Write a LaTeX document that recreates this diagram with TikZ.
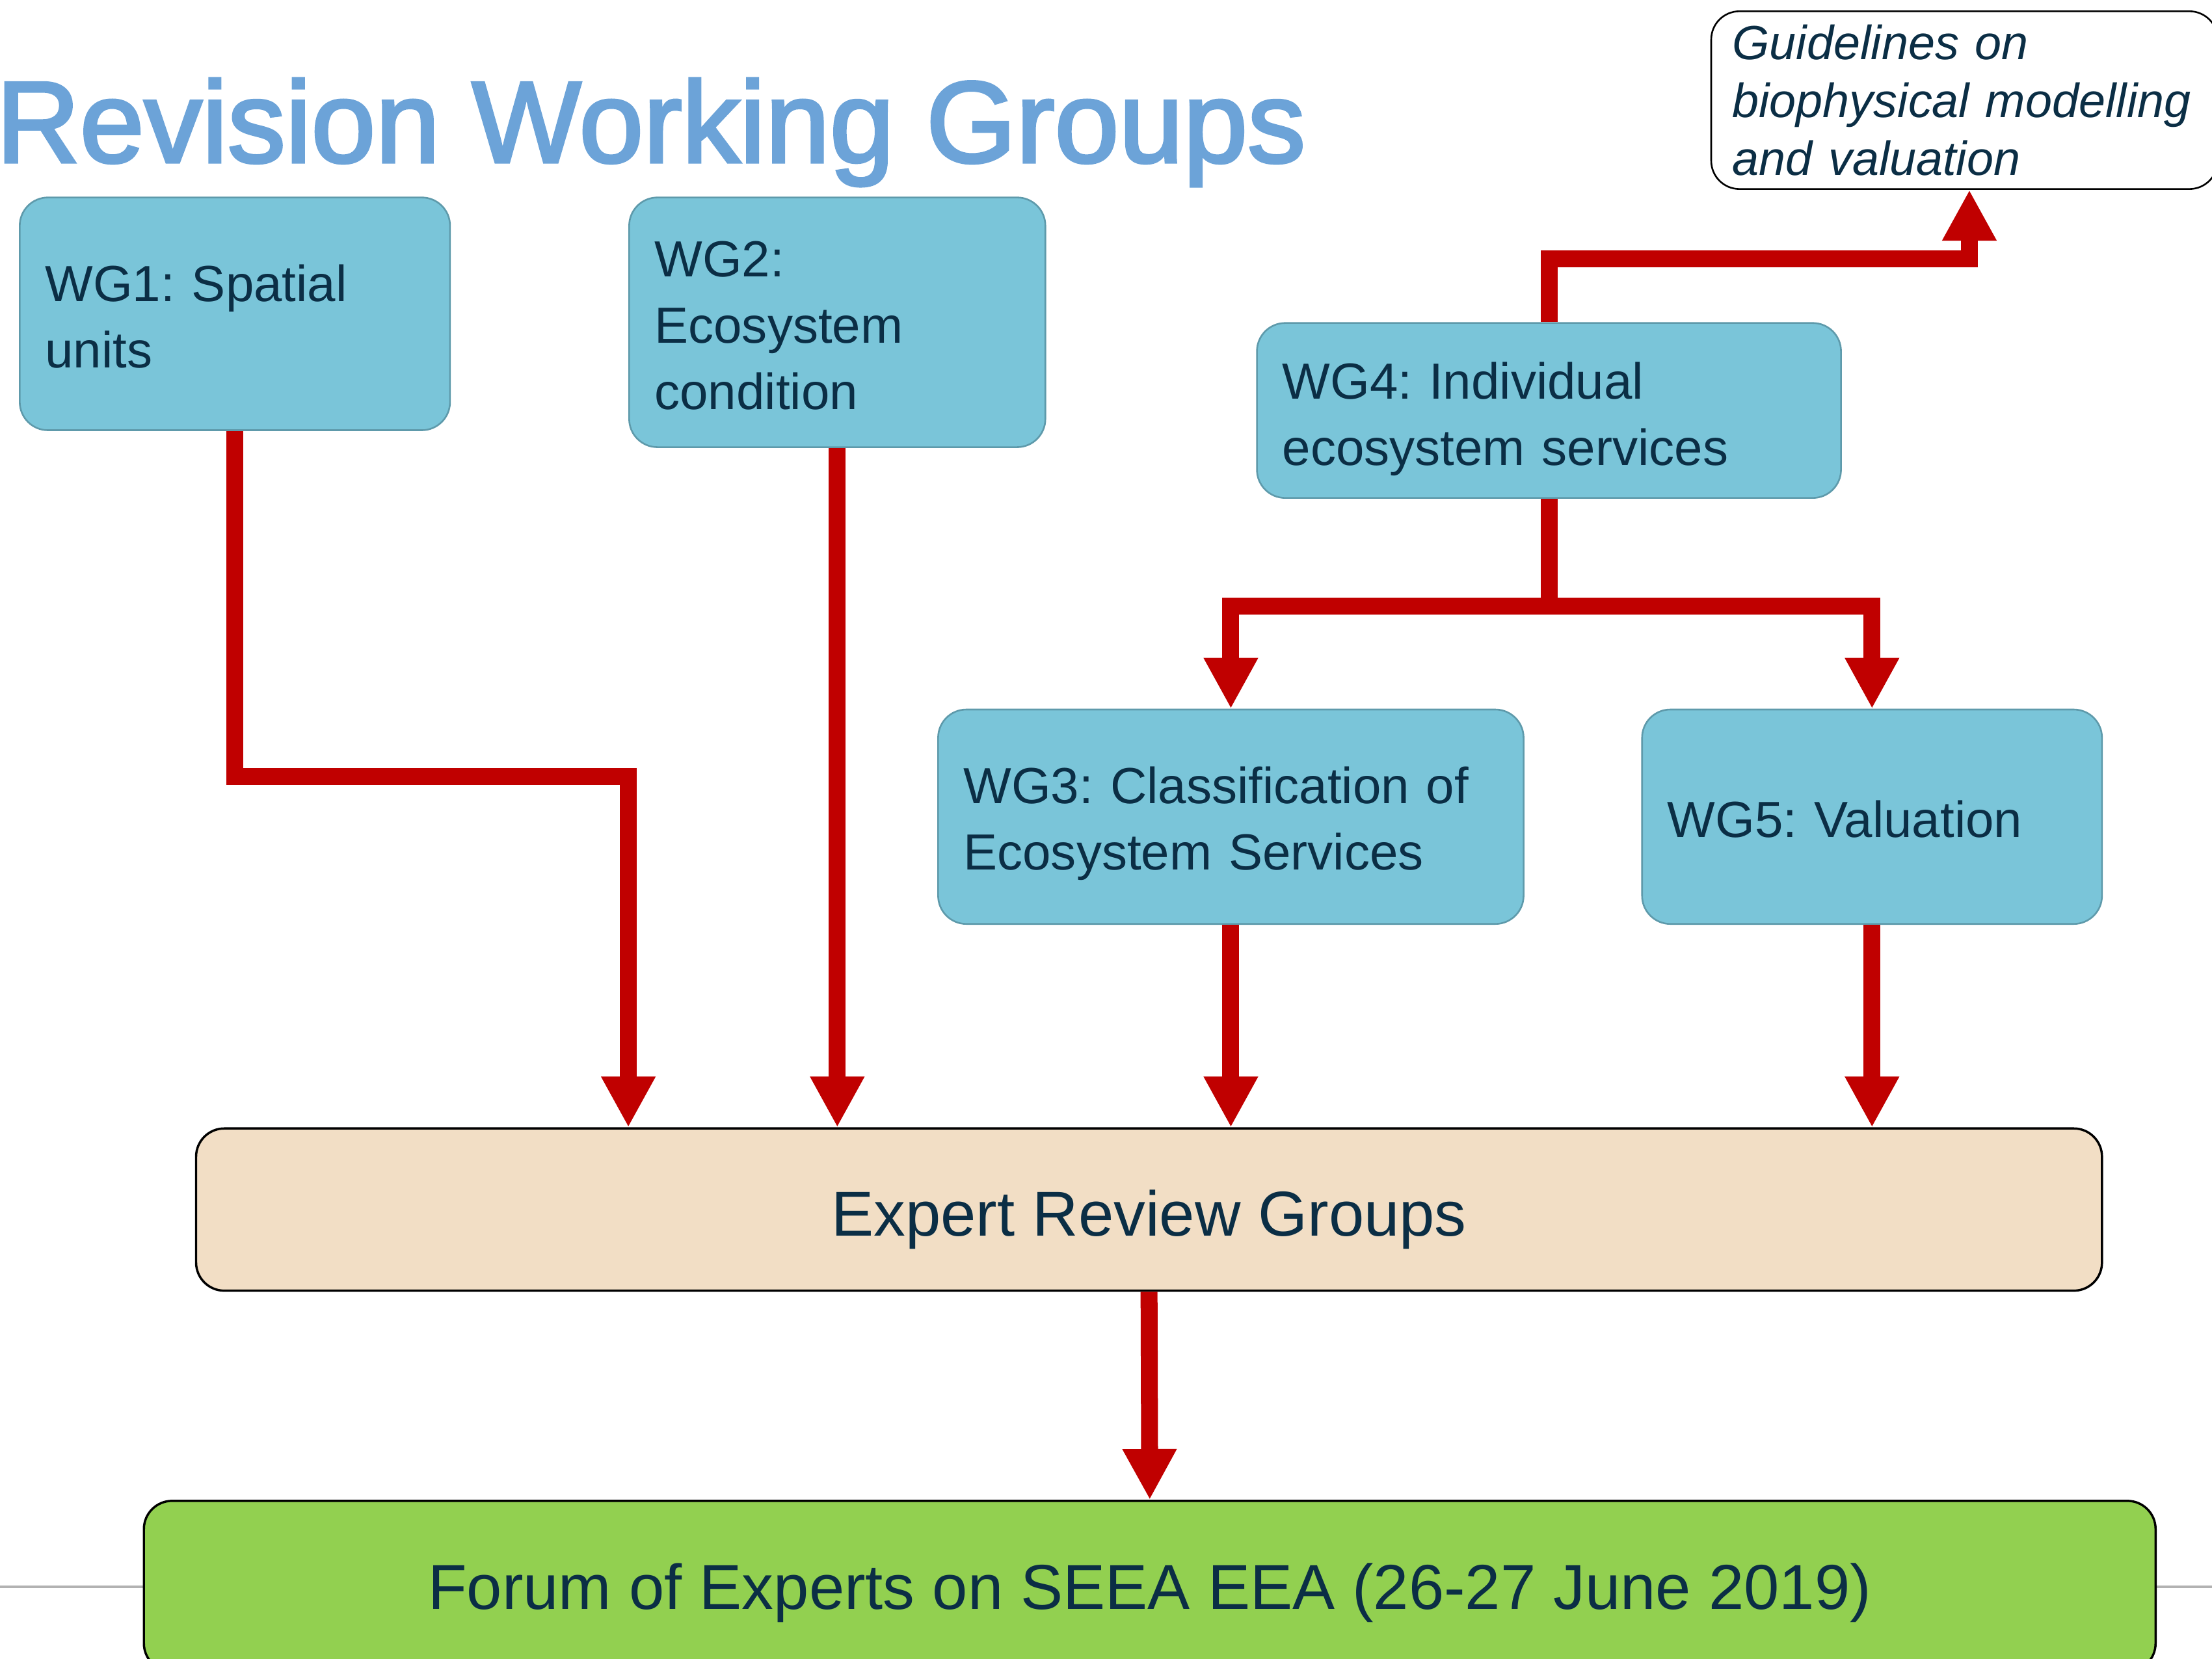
\documentclass[tikz,border=0pt]{standalone}
\usepackage{fontspec}
\setmainfont{Liberation Sans}
\newfontfamily\titlefont[FakeBold=2.5]{Liberation Sans}
\usepackage{xcolor}
\usepackage{tikz}
\usetikzlibrary{positioning,arrows.meta}
\frenchspacing

\definecolor{titleblue}{HTML}{6CA3D8}
\definecolor{wgblue}{HTML}{7AC5D9}
\definecolor{wgedge}{HTML}{5E9AAB}
\definecolor{navy}{HTML}{0B2E45}
\definecolor{flowred}{HTML}{C00000}
\definecolor{peach}{HTML}{F2DEC5}
\definecolor{leaf}{HTML}{92D050}

\begin{document}
\begin{tikzpicture}[x=0.5pt,y=-0.5pt,
    wg/.style={rectangle, rounded corners=10pt, fill=wgblue, draw=wgedge,
        line width=0.6pt, text=navy, align=left, inner xsep=9pt,
        text height=14.9pt, font=\fontsize{18}{23.5}\selectfont},
    band/.style={rectangle, rounded corners=10pt, draw=black, line width=0.8pt,
        text=navy, align=center, text depth=0pt,
        font=\fontsize{22.5}{27}\selectfont},
    flow/.style={draw=flowred, line width=6pt,
        -{Triangle[width=18pt, length=18pt]}}
]
\useasboundingbox (0,0) rectangle (1568,1176);

% Divider
\draw[gray!60, line width=1pt] (0,1125) -- (1568,1125);

% Title
\node[anchor=base west, inner sep=0pt, text=titleblue,
    font=\titlefont\fontsize{41}{49}\selectfont]
    (title) at (-3,115) {Revision Working Groups};

% Working groups
\node[wg, text width=134.5pt, minimum height=82.5pt]
    (wg1) at (166.5,222.5) {WG1: Spatial\\units};
\node[wg, text width=129.5pt, minimum height=88.5pt]
    (wg2) at (593.5,228.5) {WG2:\\Ecosystem\\condition};
\node[wg, text width=189pt, minimum height=62pt, text height=18.9pt]
    (wg4) at (1098,291) {WG4: Individual\\ecosystem services};
\node[wg, text width=189.5pt, minimum height=76pt, text height=17.9pt]
    (wg3) at (872.5,579) {WG3: Classification of\\Ecosystem Services};
\node[wg, text width=145pt, minimum height=76pt]
    (wg5) at (1327,579) {WG5: Valuation};

% Guidelines
\node[rectangle, rounded corners=10pt, draw=black, line width=0.6pt,
    fill=white, text=navy, align=left, inner xsep=7.5pt,
    text width=164.5pt, minimum height=63pt,
    font=\itshape\fontsize{17}{20.5}\selectfont]
    (guide) at (1392.5,71) {Guidelines on\\biophysical modelling\\and valuation};

% Review and forum
\node[band, fill=peach, minimum width=675.5pt, minimum height=57.5pt,
    text height=18.5pt]
    (expert) at (814.5,857.5) {Expert Review Groups};
\node[band, fill=leaf, minimum width=713pt, minimum height=60.5pt,
    text height=16.5pt]
    (forum) at (815,1124.5) {Forum of Experts on SEEA EEA (26-27 June 2019)};

% Connect WG1 - Expert
\draw[flow] (wg1.south) -- ++(0,245) -| (expert.north -| wg2.west);

% Connect WGs - Expert
\foreach \g in {wg2,wg3,wg5}
{
    \draw[flow] (\g.south) -- (\g.south |- expert.north);
}

% Connect WG4 - WG3, WG5
\coordinate[below=38pt of wg4.south] (split);
\draw[flow] (wg4.south) -- (split) -| (wg3.north);
\draw[flow] (split) -| (wg5.north);

% Connect WG4 - Guidelines
\coordinate[above=22.5pt of wg4.north] (rise);
\draw[flow] (wg4.north) -- (rise) -| ([xshift=1.75pt]guide.south);

% Connect Expert - Forum
\draw[flow] (expert.south) -- (forum.north);

\end{tikzpicture}
\end{document}
